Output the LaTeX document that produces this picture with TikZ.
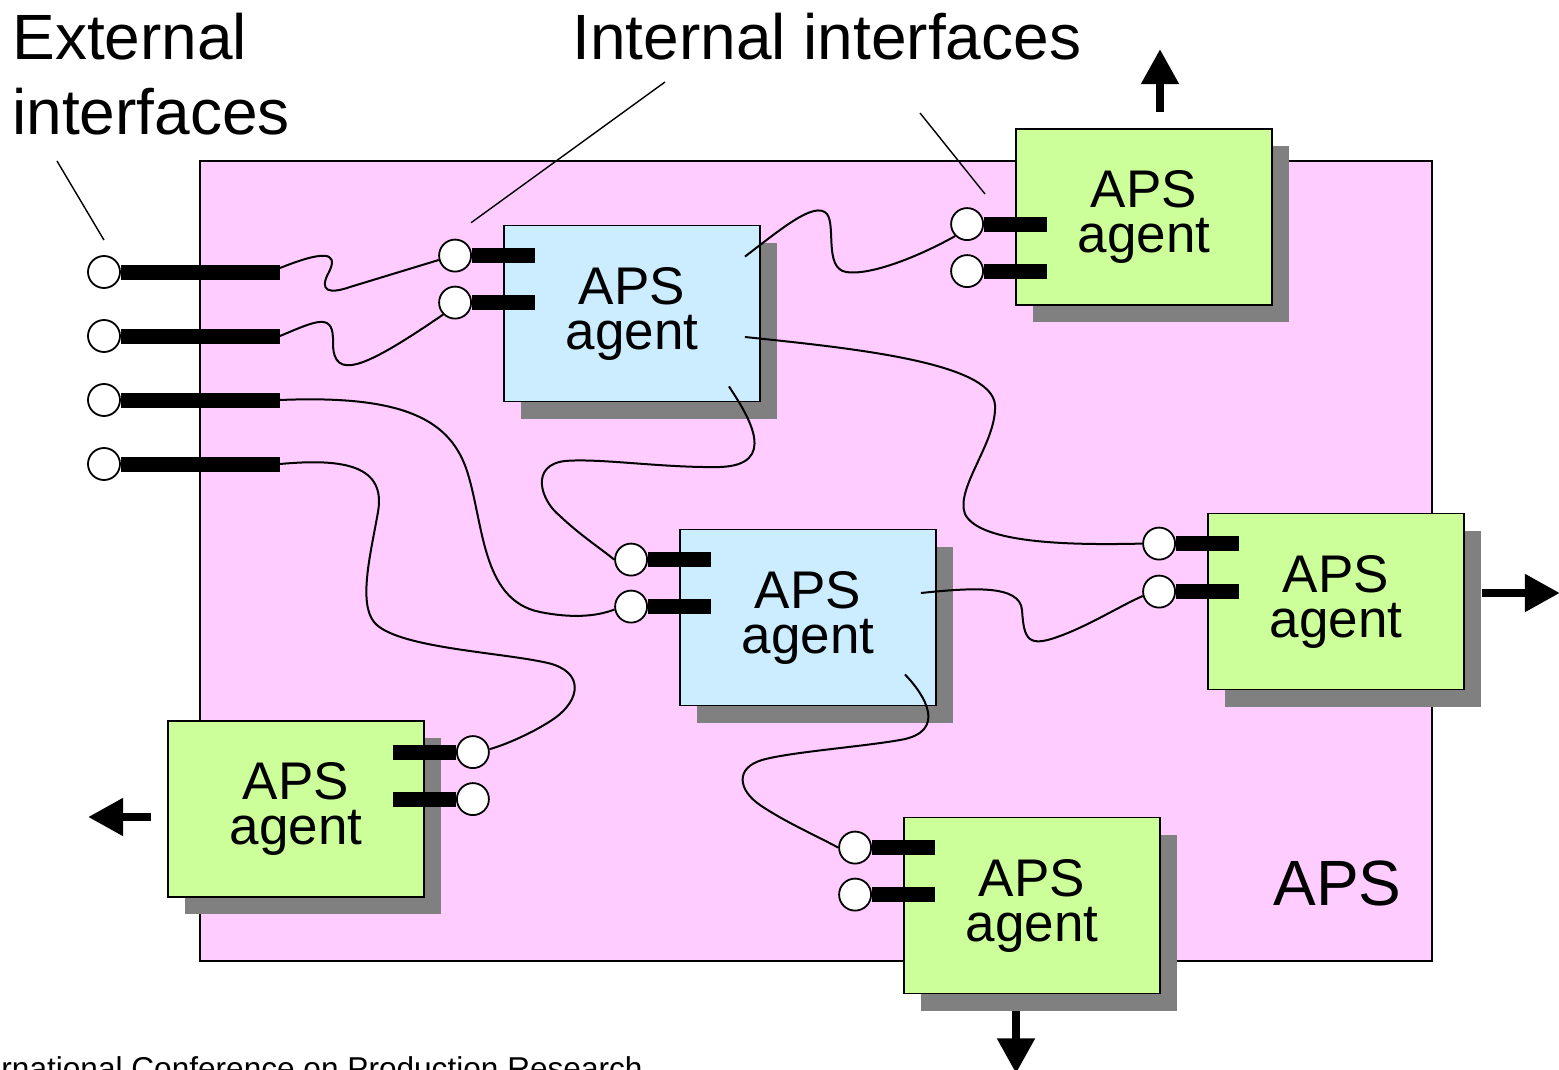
\documentclass[tikz,border=0pt]{standalone}
\usepackage{fontspec}
\setmainfont{Liberation Sans}
\usetikzlibrary{arrows.meta,positioning,calc,shadows}
\definecolor{ink}{HTML}{000000}
\definecolor{apspink}{HTML}{FFCCFF}
\definecolor{agblue}{HTML}{CCECFF}
\definecolor{aggreen}{HTML}{CCFF99}
\definecolor{shgray}{HTML}{808080}

\begin{document}
\begin{tikzpicture}[x=0.5pt, y=-0.5pt,
  agent/.style={draw=ink, line width=0.9pt, minimum width=128pt, minimum height=88pt, align=center, inner sep=0pt,
                font=\fontsize{26.5}{22.5}\selectfont, general shadow={fill=shgray, shadow xshift=8.5pt, shadow yshift=-8.5pt}},
  inagent/.style={agent, fill=agblue},
  exagent/.style={agent, fill=aggreen},
  port/.style={circle, draw=ink, fill=white, line width=0.9pt, minimum size=16pt, inner sep=0pt},
  bar/.style={line width=7.5pt, draw=ink},
  wire/.style={line width=1pt, draw=ink},
  ptr/.style={line width=0.7pt, draw=ink},
  outarr/.style={-{Triangle[length=17.5pt, width=18pt]}, line width=4pt, draw=ink},
  lab/.style={font=\fontsize{32}{37.5}\selectfont, inner sep=0pt, align=left}
]
\useasboundingbox (0,0) rectangle (1559,1070);
% ---------------- container
\node[draw=ink, fill=apspink, line width=0.75pt, minimum width=616pt, minimum height=400pt, inner sep=0pt] (aps) at (816,561) {};
\node[lab, anchor=base east] (apslab) at (1402,905) {APS};
% ---------------- agents
\node[inagent] (ag1) at (632,313.5) {APS\\agent};
\node[inagent] (ag2) at (808,617.5) {APS\\agent};
\node[exagent] (ag3) at (1144,217) {APS\\agent};
\node[exagent] (ag4) at (1336,601.5) {APS\\agent};
\node[exagent] (ag5) at (1032,905.5) {APS\\agent};
\node[exagent] (ag6) at (296,809) {APS\\agent};
% ---------------- labels
\node[lab, anchor=base west] (extlab) at (12,135) {External\\interfaces};
\node[lab, anchor=base west] (intlab) at (572,60) {Internal interfaces};
\node[font=\fontsize{15.8}{18}\selectfont, inner sep=0pt, anchor=base east] (foot) at (643,1079) {rnational Conference on Production Research};
% ---------------- external interfaces
\node[port] (x1) at (104,272) {};
\node[port] (x2) at (104,336) {};
\node[port] (x3) at (104,400) {};
\node[port] (x4) at (104,464) {};
\draw[bar] (x1.east) -- (280,272) coordinate (x1e);
\draw[bar] (x2.east) -- (280,336) coordinate (x2e);
\draw[bar] (x3.east) -- (280,400) coordinate (x3e);
\draw[bar] (x4.east) -- (280,464) coordinate (x4e);
% ---------------- internal interfaces
\node[port] (p1a) at ($(ag1.north west)+(-48,31)$) {};
\node[port] (p1b) at ($(ag1.north west)+(-48,78)$) {};
\node[port] (p2a) at ($(ag2.north west)+(-48,31)$) {};
\node[port] (p2b) at ($(ag2.north west)+(-48,78)$) {};
\node[port] (p3a) at ($(ag3.north west)+(-48,96)$) {};
\node[port] (p3b) at ($(ag3.north west)+(-48,143)$) {};
\node[port] (p4a) at ($(ag4.north west)+(-48,31)$) {};
\node[port] (p4b) at ($(ag4.north west)+(-48,79)$) {};
\node[port] (p5a) at ($(ag5.north west)+(-48,31)$) {};
\node[port] (p5b) at ($(ag5.north west)+(-48,78)$) {};
\node[port] (p6a) at ($(ag6.north east)+(48,32)$) {};
\node[port] (p6b) at ($(ag6.north east)+(48,79)$) {};
\draw[bar] (p1a.east) -- ($(p1a -| ag1.west)+(32,0)$);
\draw[bar] (p1b.east) -- ($(p1b -| ag1.west)+(32,0)$);
\draw[bar] (p2a.east) -- ($(p2a -| ag2.west)+(32,0)$);
\draw[bar] (p2b.east) -- ($(p2b -| ag2.west)+(32,0)$);
\draw[bar] (p3a.east) -- ($(p3a -| ag3.west)+(32,0)$);
\draw[bar] (p3b.east) -- ($(p3b -| ag3.west)+(32,0)$);
\draw[bar] (p4a.east) -- ($(p4a -| ag4.west)+(32,0)$);
\draw[bar] (p4b.east) -- ($(p4b -| ag4.west)+(32,0)$);
\draw[bar] (p5a.east) -- ($(p5a -| ag5.west)+(32,0)$);
\draw[bar] (p5b.east) -- ($(p5b -| ag5.west)+(32,0)$);
\draw[bar] (p6a.west) -- ($(p6a -| ag6.east)+(-32,0)$);
\draw[bar] (p6b.west) -- ($(p6b -| ag6.east)+(-32,0)$);
% ---------------- wires
\coordinate (c11) at ($(ag1.north east)+(-16,32)$);
\coordinate (c12) at ($(ag1.east)+(-16,23.5)$);
\coordinate (c13) at ($(ag1.south east)+(-32,-16)$);
\coordinate (c21) at ($(ag2.east)+(-16,-24.5)$);
\coordinate (c22) at ($(ag2.south east)+(-32,-32)$);
\draw[wire] ($(x1e)+(0,-4)$) .. controls (320,252) and (340,250) .. (329,272) .. controls (318,292) and (330,294) .. (350,287) -- (p1a.195);
\draw[wire] (x2e) .. controls (318,320) and (334,312) .. (333,343) .. controls (333,382) and (365,368) .. (p1b.225);
\draw[wire] (x3e) .. controls (400,395) and (448,418) .. (466,468) .. controls (484,520) and (480,600) .. (540,612) .. controls (570,618) and (595,617) .. (p2b.190);
\draw[wire] (x4e) .. controls (345,458) and (386,466) .. (378,512) .. controls (371,552) and (358,602) .. (374,622)
  .. controls (395,648) and (500,652) .. (548,663) .. controls (585,672) and (580,700) .. (555,718) .. controls (535,732) and (505,745) .. (p6a.10);
\draw[wire] (c11) .. controls (780,230) and (815,200) .. (827,214) .. controls (836,226) and (824,268) .. (846,272) .. controls (870,276) and (920,256) .. (p3a.225);
\draw[wire] (c12) .. controls (850,348) and (992,362) .. (995,405) .. controls (997,442) and (955,488) .. (965,514) .. controls (980,545) and (1080,545) .. (p4a.west);
\draw[wire] (c13) .. controls (750,418) and (778,465) .. (720,467) .. controls (662,468) and (600,458) .. (565,461)
  .. controls (530,465) and (540,500) .. (560,516) .. controls (580,535) and (600,548) .. (p2a.west);
\draw[wire] (c21) .. controls (970,588) and (1020,584) .. (1022,610) .. controls (1024,640) and (1028,648) .. (1060,636) .. controls (1090,625) and (1120,606) .. (p4b.195);
\draw[wire] (c22) .. controls (925,695) and (948,732) .. (900,740) .. controls (860,747) and (790,752) .. (762,760)
  .. controls (735,768) and (738,790) .. (760,805) .. controls (785,822) and (815,835) .. (p5a.west);
% ---------------- pointers
\coordinate (extA) at (57,161);
\coordinate (extB) at ($(x1.north)+(0,-15)$);
\coordinate (intA) at (665,82);
\coordinate (intB) at ($(p1a.north)+(16,-16)$);
\coordinate (intC) at (920,113);
\coordinate (intD) at (985,194);
\draw[ptr] (extA) -- (extB);
\draw[ptr] (intA) -- (intB);
\draw[ptr] (intC) -- (intD);
% ---------------- outputs
\draw[outarr] ($(ag3.north)+(16,-16)$) -- ++(0,-63);
\draw[outarr] ($(ag4.east)+(17,-8.5)$) -- ++(78,0);
\draw[outarr] ($(ag6.west)+(-16,8)$) -- ++(-63,0);
\draw[outarr] ($(ag5.south)+(-16,17)$) -- ++(0,62);
\end{tikzpicture}
\end{document}
